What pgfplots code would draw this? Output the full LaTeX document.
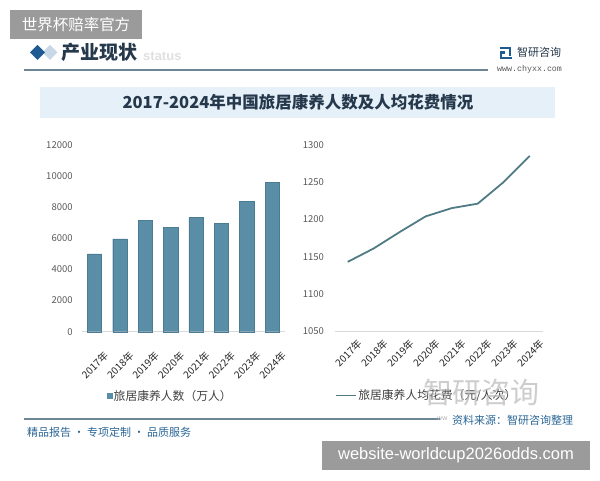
\documentclass[border=0pt]{standalone}
\usepackage{fontspec}
\setmainfont{Noto Sans CJK SC}
\newfontfamily\latinsans{Liberation Sans}
\newfontfamily\monofont{Liberation Mono}
\usepackage{pgfplots}
\pgfplotsset{compat=1.18}
\definecolor{barcol}{HTML}{5A8DA6}
\definecolor{baredge}{HTML}{4C7C93}
\definecolor{linecol}{HTML}{4F7C84}
\definecolor{hdrline}{HTML}{6D8797}
\definecolor{diam}{HTML}{1F5A93}
\definecolor{diamlight}{HTML}{C9D8E6}
\definecolor{titlebg}{HTML}{E5F0F8}
\definecolor{titletxt}{HTML}{25384C}
\definecolor{bluetxt}{HTML}{2B6797}
\definecolor{ticktxt}{HTML}{595959}
\definecolor{wmgray}{HTML}{9B9B9B}
\begin{document}
\begin{tikzpicture}[x=1pt,y=1pt]
\fill[white] (0,0) rectangle (600,480);
\useasboundingbox (0,0) rectangle (600,480);

% ---------- header ----------
\fill[diamlight] (50,435) -- (57.5,427.5) -- (50,420) -- (42.5,427.5) -- cycle;
\fill[diam] (37.5,435) -- (45,427.5) -- (37.5,420) -- (30,427.5) -- cycle;
\node[anchor=west, text=black!12, font=\latinsans\fontsize{13}{13}\selectfont\bfseries, inner sep=0pt] at (143,424) {status};
\node[anchor=west, text=titletxt, font=\fontsize{19}{19}\selectfont\bfseries, inner sep=0pt] at (61,428) {产业现状};
\draw[hdrline, line width=1.2pt] (24,410) -- (488,410);
% logo
\fill[diam] (500,431) rectangle (511,433);
\fill[diam] (509,424) rectangle (511,433);
\fill[diam] (500,426) rectangle (505,428.5);
\fill[diam] (500,421) rectangle (502,428.5);
\fill[diam] (500,421) rectangle (512,423);
\node[anchor=west, text=titletxt, font=\fontsize{11}{11}\selectfont, inner sep=0pt] at (517,428) {智研咨询};
\node[anchor=west, text=black!65, font=\monofont\fontsize{8.3}{8.3}\selectfont, inner sep=0pt] at (497,411) {www.chyxx.com};

% ---------- title box ----------
\fill[titlebg] (40,362) rectangle (555,393);
\node[text=titletxt, font=\fontsize{16.5}{16.5}\selectfont\bfseries, inner sep=0pt] at (298,377.5) {2017-2024年中国旅居康养人数及人均花费情况};

% ---------- bar chart ----------
\begin{axis}[
  at={(81.8pt,148.3pt)}, anchor=south west,
  scale only axis, width=203.1pt, height=187pt,
  xmin=-0.5, xmax=7.5, ymin=0, ymax=12000,
  axis x line=bottom, axis y line=left,
  x axis line style={-, draw=black!15, line width=1pt},
  y axis line style={draw=none},
  major tick length=0pt,
  ytick={0,2000,4000,6000,8000,10000,12000},
  scaled y ticks=false,
  /pgf/number format/1000 sep={},
  /pgf/number format/assume math mode=true,
  yticklabel style={font=\fontsize{9.5}{9.5}\selectfont, text=ticktxt, inner sep=0pt, anchor=east, xshift=-9pt},
  xtick={0,1,2,3,4,5,6,7},
  xticklabels={2017年,2018年,2019年,2020年,2021年,2022年,2023年,2024年},
  xticklabel style={rotate=45, anchor=north east, font=\fontsize{10}{10}\selectfont, text=black!85, inner sep=0pt, xshift=-7pt, yshift=-19pt},
  legend style={at={(0.434,-0.344)}, anchor=center, draw=none, fill=none,
    font=\fontsize{11.8}{11.8}\selectfont, text=black!75, inner sep=0pt,
    nodes={inner sep=1pt}},
  legend image code/.code={\fill[barcol] (0pt,-2.6pt) rectangle (5.2pt,2.6pt);},
  clip=false,
]
\addplot[ybar, bar width=14.3pt, fill=barcol, draw=baredge, line width=0.4pt]
  coordinates {(0,5000) (1,5950) (2,7150) (3,6700) (4,7350) (5,6950) (6,8350) (7,9600)};
\addlegendentry{旅居康养人数（万人）}
\end{axis}

% ---------- line chart ----------
\begin{axis}[
  at={(334.7pt,148.7pt)}, anchor=south west,
  scale only axis, width=208pt, height=186.6pt,
  xmin=-0.5, xmax=7.5, ymin=1050, ymax=1300,
  axis x line=bottom, axis y line=left,
  x axis line style={-, draw=black!15, line width=1pt},
  y axis line style={draw=none},
  major tick length=0pt,
  ytick={1050,1100,1150,1200,1250,1300},
  /pgf/number format/1000 sep={},
  /pgf/number format/assume math mode=true,
  yticklabel style={font=\fontsize{9.5}{9.5}\selectfont, text=ticktxt, inner sep=0pt, anchor=east, xshift=-10.5pt},
  xtick={0,1,2,3,4,5,6,7},
  xticklabels={2017年,2018年,2019年,2020年,2021年,2022年,2023年,2024年},
  xticklabel style={rotate=45, anchor=north east, font=\fontsize{10}{10}\selectfont, text=black!85, inner sep=0pt, xshift=1.5pt, yshift=-11pt},
  legend style={at={(0.441,-0.344)}, anchor=center, draw=none, fill=none,
    font=\fontsize{11.8}{11.8}\selectfont, text=black!75, inner sep=0pt,
    nodes={inner sep=1pt}},
  legend image code/.code={\draw[linecol, line width=1.8pt] (0pt,0pt) -- (20pt,0pt);},
  clip=false,
]
\addplot[linecol, line width=1.8pt, mark=none]
  coordinates {(0,1143) (1,1161) (2,1183) (3,1204) (4,1215) (5,1221) (6,1250) (7,1285)};
\addlegendentry{旅居康养人均花费（元/人次）}
\end{axis}

% ---------- footer ----------
\node[anchor=west, text=black!28, font=\fontsize{29}{29}\selectfont, inner sep=0pt, opacity=0.7] at (423,87) {智研咨询};
\draw[hdrline, line width=1.5pt] (24,61) -- (440,61);
\node[anchor=west, text=black!30, font=\latinsans\fontsize{7}{7}\selectfont, inner sep=0pt] at (437,61) {ww};
\node[anchor=west, text=bluetxt, font=\fontsize{11}{11}\selectfont, inner sep=0pt] at (452,60) {资料来源：智研咨询整理};
\node[anchor=west, text=bluetxt, font=\fontsize{11}{11}\selectfont, inner sep=0pt] at (27,48) {精品报告 · 专项定制 · 品质服务};

% ---------- overlay boxes ----------
\fill[wmgray] (10,441) rectangle (142,470);
\node[text=white, font=\fontsize{15.5}{15.5}\selectfont, inner sep=0pt] at (76,455.5) {世界杯赔率官方};
\fill[wmgray] (322,10) rectangle (590,39);
\node[text=white, font=\latinsans\fontsize{16.5}{16.5}\selectfont, inner sep=0pt] at (456,24.5) {website-worldcup2026odds.com};
\end{tikzpicture}
\end{document}
